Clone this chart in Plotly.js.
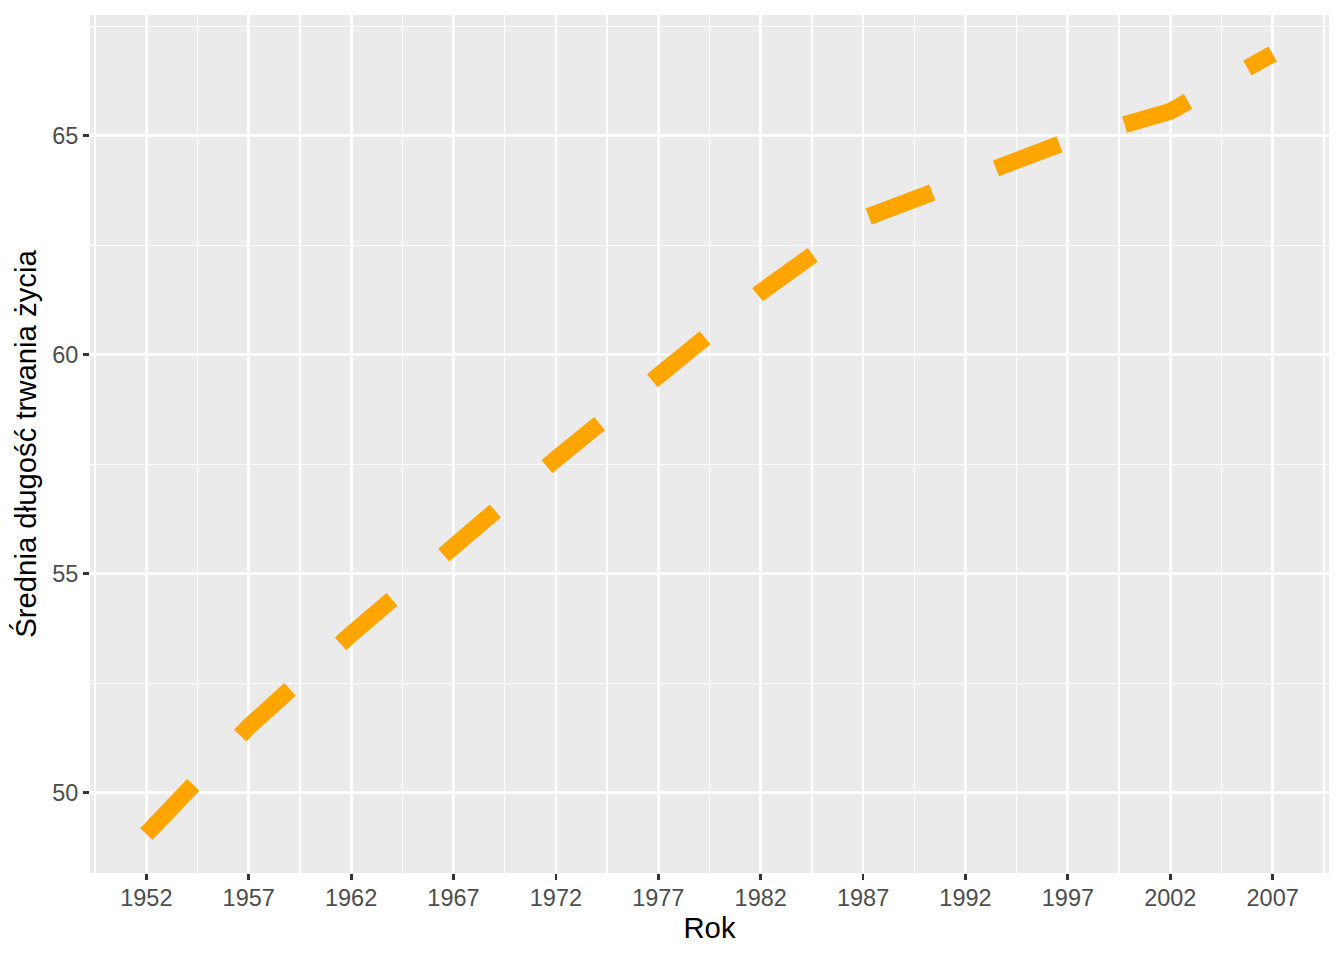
<!DOCTYPE html>
<html>
<head>
<meta charset="utf-8">
<script src="https://cdn.plot.ly/plotly-3.0.1.min.js"></script>
<style>html,body{margin:0;padding:0;background:#fff;}#chart{width:1344px;height:960px;}</style>
</head>
<body>
<div id="chart"></div>
<script>
const years = [1952, 1957, 1962, 1967, 1972, 1977, 1982, 1987, 1992, 1997, 2002, 2007];
const lifeExp = [49.06, 51.51, 53.62, 55.68, 57.62, 59.52, 61.43, 63.11, 64.04, 64.88, 65.56, 66.87];
const xTitle = "Rok";
const yTitle = "Średnia długość trwania życia";

const trace = {
  x: years,
  y: lifeExp,
  type: "scatter",
  mode: "lines",
  line: {color: "#FFA500", width: 17, dash: "68px,68px"},
  hoverinfo: "x+y"
};

const font = "Liberation Sans, Arial, Helvetica, sans-serif";
const layout = {
  width: 1344,
  height: 960,
  margin: {l: 90, r: 15, t: 15, b: 87},
  paper_bgcolor: "#FFFFFF",
  plot_bgcolor: "#EBEBEB",
  showlegend: false,
  font: {family: font, color: "#000"},
  xaxis: {
    range: [1949.25, 2009.75],
    tickmode: "linear", tick0: 1952, dtick: 5,
    ticks: "outside", ticklen: 6, tickwidth: 2.8, tickcolor: "#333333",
    tickfont: {family: font, size: 23.5, color: "#4D4D4D"},
    ticklabelstandoff: -2,
    showgrid: true, gridcolor: "#FFFFFF", gridwidth: 2.8,
    zeroline: false, showline: false,
    minor: {tick0: 1949.5, dtick: 5, showgrid: true, gridcolor: "#FFFFFF", gridwidth: 1.4, ticks: ""},
    title: {text: xTitle, font: {family: font, size: 29.3, color: "#000"}, standoff: 6}
  },
  yaxis: {
    range: [48.17, 67.76],
    tickmode: "linear", tick0: 50, dtick: 5,
    ticks: "outside", ticklen: 6, tickwidth: 2.8, tickcolor: "#333333",
    tickfont: {family: font, size: 23.5, color: "#4D4D4D"},
    showgrid: true, gridcolor: "#FFFFFF", gridwidth: 2.8,
    zeroline: false, showline: false,
    minor: {tick0: 47.5, dtick: 5, showgrid: true, gridcolor: "#FFFFFF", gridwidth: 1.4, ticks: ""},
    title: {text: yTitle, font: {family: font, size: 29.3, color: "#000"}, standoff: 6}
  }
};

Plotly.newPlot("chart", [trace], layout, {displayModeBar: false, staticPlot: true});
</script>
</body>
</html>
